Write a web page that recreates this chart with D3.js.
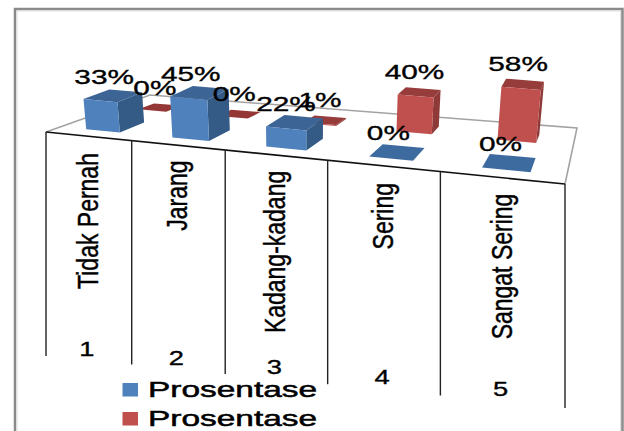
<!DOCTYPE html>
<html>
<head>
<meta charset="utf-8">
<script src="https://cdn.jsdelivr.net/npm/d3@7/dist/d3.min.js"></script>
<style>
html,body{margin:0;padding:0;background:#fff}
svg{display:block}
text{font-family:"Liberation Sans",Arial,sans-serif;fill:#000;stroke:#000;stroke-width:0.35px}
</style>
</head>
<body>
<svg id="chart" width="624" height="431"></svg>
<script>
const categories = ["Tidak Pernah", "Jarang", "Kadang-kadang", "Sering", "Sangat Sering"];
const categoryNumbers = ["1", "2", "3", "4", "5"];
const seriesNames = ["Prosentase", "Prosentase"];
const blueValues = [33, 45, 22, 0, 0];
const redValues = [0, 0, 1, 40, 58];

const W = 624, H = 431;
const svg = d3.select("#chart");

// Plot floor corners on screen: front-left, front-right, back-right, back-left
const floor = [[46, 132], [565, 184], [577, 128], [150, 95]];

// Perspective mapping from the unit square onto the floor
function homography(q) {
  const [[x0, y0], [x1, y1], [x2, y2], [x3, y3]] = q;
  const sx = x0 - x1 + x2 - x3, sy = y0 - y1 + y2 - y3;
  const dx1 = x1 - x2, dx2 = x3 - x2, dy1 = y1 - y2, dy2 = y3 - y2;
  const den = dx1 * dy2 - dx2 * dy1;
  const g = (sx * dy2 - dx2 * sy) / den, h = (dx1 * sy - sx * dy1) / den;
  const a = x1 - x0 + g * x1, b = x3 - x0 + h * x3;
  const d = y1 - y0 + g * y1, e = y3 - y0 + h * y3;
  return (u, v) => {
    const w = g * u + h * v + 1;
    return [(a * u + b * v + x0) / w, (d * u + e * v + y0) / w];
  };
}
const project = homography(floor);

const catScale = d3.scaleLinear().domain([0, categories.length]).range([0, 1]);
const heightScale = d3.scaleLinear().domain([0, 58]).range([0, 53]);
const LEAN = 0.00039;           // verticals splay outward away from the centre
const CENTER_X = 310;

// Per-series slot within a category and depth band on the floor
const seriesLayout = [
  { slot: [0.31, 0.71], depth: [0.12, 0.35] },
  { slot: [0.305, 0.665], depth: [0.62, 0.79] }
];

const seriesStyles = [
  { front: "#4f81bd", top: "#3c6595", side: "#345a86", flat: "#3d6a9f" },
  { front: "#c0504d", top: "#963c3a", side: "#8e3a38", flat: "#953735" }
];

function lift(p, h) {
  return [p[0] + (p[0] - CENTER_X) * LEAN * h, p[1] - h];
}
const toPath = pts => "M" + pts.map(p => p[0].toFixed(1) + "," + p[1].toFixed(1)).join("L") + "Z";

// Outer chart frame, open along the bottom edge
svg.append("path")
  .attr("d", `M15,${H}V9H622.5V${H}`)
  .attr("fill", "none").attr("stroke", "#8a8a8a").attr("stroke-width", 2.5);
svg.append("path")
  .attr("d", `M17,${H}V11H620.5V${H}`)
  .attr("fill", "none").attr("stroke", "#dcdcdc").attr("stroke-width", 1);

// Floor outline
svg.append("path")
  .attr("d", d3.line()([floor[0], floor[3], floor[2], floor[1]]))
  .attr("fill", "none").attr("stroke", "#a3a3a3").attr("stroke-width", 1.6);

// Category dividers hanging from the front edge
const DIVIDER_DROP = 224;
const ticks = d3.range(categories.length + 1).map(i => {
  const top = project(catScale(i), 0);
  return { i, top, bottom: [top[0], top[1] + DIVIDER_DROP] };
});
svg.append("line")
  .attr("x1", floor[0][0]).attr("y1", floor[0][1])
  .attr("x2", floor[1][0]).attr("y2", floor[1][1])
  .attr("stroke", "#111").attr("stroke-width", 1.7);
svg.selectAll("line.divider").data(ticks).enter().append("line")
  .attr("class", "divider")
  .attr("x1", d => d.top[0]).attr("y1", d => d.top[1])
  .attr("x2", d => d.bottom[0]).attr("y2", d => d.bottom[1])
  .attr("stroke", "#222").attr("stroke-width", 1.4);

// One bar as a front, top and side face; a zero-height bar collapses to its footprint
function drawBar(g, catIndex, value, layout, style) {
  const cw = catScale(1);
  const u0 = catScale(catIndex) + cw * layout.slot[0];
  const u1 = catScale(catIndex) + cw * layout.slot[1];
  const fl = project(u0, layout.depth[0]), fr = project(u1, layout.depth[0]);
  const bl = project(u0, layout.depth[1]), br = project(u1, layout.depth[1]);
  const h = heightScale(value);
  const [tfl, tfr, tbl, tbr] = [fl, fr, bl, br].map(p => lift(p, h));
  if (value === 0) {
    g.append("path").attr("d", toPath([fl, fr, br, bl])).attr("fill", style.flat);
  } else {
    g.append("path").attr("d", toPath([fr, br, tbr, tfr])).attr("fill", style.side);
    g.append("path").attr("d", toPath([tfl, tfr, tbr, tbl])).attr("fill", style.top);
    g.append("path").attr("d", toPath([fl, fr, tfr, tfl])).attr("fill", style.front);
  }
  return [(tfl[0] + tfr[0] + tbl[0] + tbr[0]) / 4, (tfl[1] + tfr[1] + tbl[1] + tbr[1]) / 4];
}

const barLayer = svg.append("g");
const labels = [];
// Back row first so the nearer series overlaps it
redValues.forEach((v, i) => {
  const c = drawBar(barLayer, i, v, seriesLayout[1], seriesStyles[1]);
  labels.push({ value: v, x: c[0] - 5, y: c[1] - 13 });
});
blueValues.forEach((v, i) => {
  const c = drawBar(barLayer, i, v, seriesLayout[0], seriesStyles[0]);
  labels.push({ value: v, x: c[0] - 9, y: c[1] - 12 });
});

// Text wider than tall, as the whole chart is drawn stretched sideways
const LABEL_STRETCH = 1.42;
svg.selectAll("text.value").data(labels).enter().append("text")
  .attr("class", "value")
  .attr("text-anchor", "middle")
  .attr("font-size", 21)
  .attr("transform", d => `translate(${d.x},${d.y}) scale(${LABEL_STRETCH},1)`)
  .text(d => d.value + "%");

// Rotated category names, with their distance above each divider's foot
const nameLift = [135, 169, 122, 168, 129];
svg.selectAll("text.cat").data(categories).enter().append("text")
  .attr("class", "cat")
  .attr("text-anchor", "middle")
  .attr("font-size", 23)
  .attr("transform", (d, i) => {
    const x = (ticks[i].bottom[0] + ticks[i + 1].bottom[0]) / 2 + 9;
    const y = ticks[i].bottom[1] - nameLift[i];
    return `translate(${x},${y}) scale(1.25,1) rotate(-90)`;
  })
  .text(d => d);

// Category numbers sit level with the foot of the left divider
svg.selectAll("text.num").data(categoryNumbers).enter().append("text")
  .attr("class", "num")
  .attr("text-anchor", "middle")
  .attr("font-size", 21)
  .attr("transform", (d, i) => {
    const x = (ticks[i].bottom[0] + ticks[i + 1].bottom[0]) / 2 - 2;
    return `translate(${x},${ticks[i].bottom[1]}) scale(1.3,1)`;
  })
  .text(d => d);

// Legend
const legendY = d3.scalePoint().domain([0, 1]).range([397, 426]);
const legend = svg.selectAll("g.legend").data(seriesNames).enter().append("g")
  .attr("class", "legend");
legend.append("rect")
  .attr("x", 122.5).attr("width", 15.5).attr("height", 13.5)
  .attr("y", (d, i) => legendY(i) - 14)
  .attr("fill", (d, i) => seriesStyles[i].front);
legend.append("text")
  .attr("font-size", 22)
  .style("stroke-width", "0.5px")
  .attr("transform", (d, i) => `translate(148,${legendY(i)}) scale(1.52,1)`)
  .text(d => d);
</script>
</body>
</html>
